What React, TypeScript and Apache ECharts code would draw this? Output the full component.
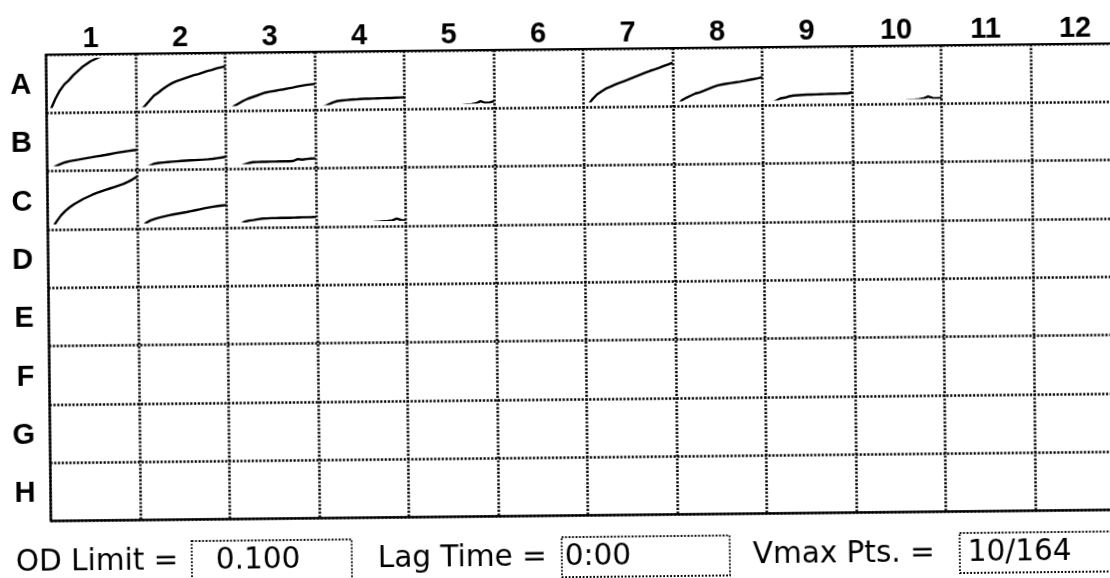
import React, { useEffect, useRef } from "react";
import * as echarts from "echarts";

// ---- plate labels ----
const colLabels = ["1", "2", "3", "4", "5", "6", "7", "8", "9", "10", "11", "12"];
const rowLabels = ["A", "B", "C", "D", "E", "F", "G", "H"];

// ---- kinetic read time points (minutes) ----
const timePoints = ["0", "1", "2", "3", "4", "5", "6", "7", "8", "9", "10", "11", "12", "13", "14", "15", "16", "17", "18", "19", "20"];

// ---- OD readings per well (display window 0.10 .. 0.57 OD) ----
const A1 = [0.02, 0.08, 0.18, 0.26, 0.32, 0.36, 0.41, 0.45, 0.49, 0.52, 0.55, 0.57, 0.59, 0.61, 0.63, 0.65, 0.67, 0.68, 0.7, 0.71, 0.72];
const A2 = [0.0, 0.06, 0.1, 0.15, 0.2, 0.23, 0.265, 0.295, 0.32, 0.34, 0.355, 0.37, 0.385, 0.4, 0.41, 0.425, 0.44, 0.45, 0.465, 0.475, 0.485];
const A3 = [0.02, 0.06, 0.09, 0.115, 0.14, 0.16, 0.175, 0.19, 0.205, 0.22, 0.228, 0.235, 0.243, 0.25, 0.258, 0.266, 0.275, 0.283, 0.29, 0.295, 0.3];
const A4 = [0.02, 0.05, 0.075, 0.095, 0.115, 0.128, 0.133, 0.137, 0.14, 0.142, 0.145, 0.147, 0.148, 0.149, 0.15, 0.151, 0.152, 0.153, 0.155, 0.156, 0.158];
const A5 = [0.012, 0.018, 0.021, 0.027, 0.033, 0.036, 0.041, 0.047, 0.052, 0.055, 0.061, 0.066, 0.069, 0.074, 0.081, 0.084, 0.09, 0.112, 0.095, 0.097, 0.112];
const A7 = [0.0, 0.06, 0.12, 0.165, 0.195, 0.223, 0.24, 0.26, 0.278, 0.294, 0.31, 0.328, 0.345, 0.363, 0.38, 0.396, 0.41, 0.425, 0.442, 0.458, 0.475];
const A8 = [0.0, 0.05, 0.101, 0.125, 0.145, 0.165, 0.177, 0.193, 0.21, 0.228, 0.243, 0.252, 0.26, 0.266, 0.272, 0.278, 0.285, 0.294, 0.302, 0.31, 0.32];
const A9 = [0.0, 0.03, 0.06, 0.085, 0.108, 0.115, 0.128, 0.135, 0.138, 0.14, 0.142, 0.143, 0.144, 0.145, 0.146, 0.147, 0.148, 0.149, 0.15, 0.15, 0.16];
const A10 = [0.01, 0.02, 0.025, 0.03, 0.036, 0.04, 0.047, 0.05, 0.056, 0.06, 0.064, 0.07, 0.073, 0.078, 0.082, 0.087, 0.093, 0.112, 0.096, 0.094, 0.097];
const B1 = [0.01, 0.06, 0.09, 0.11, 0.126, 0.137, 0.145, 0.152, 0.16, 0.167, 0.174, 0.182, 0.188, 0.195, 0.203, 0.211, 0.219, 0.225, 0.232, 0.238, 0.243];
const B2 = [0.0, 0.03, 0.06, 0.085, 0.104, 0.111, 0.115, 0.119, 0.122, 0.125, 0.128, 0.131, 0.133, 0.135, 0.137, 0.139, 0.142, 0.146, 0.152, 0.158, 0.167];
const B3 = [0.0, 0.01, 0.04, 0.065, 0.085, 0.099, 0.108, 0.11, 0.111, 0.111, 0.112, 0.112, 0.113, 0.113, 0.114, 0.116, 0.135, 0.128, 0.135, 0.138, 0.14];
const C1 = [0.0, 0.05, 0.12, 0.18, 0.225, 0.26, 0.29, 0.315, 0.34, 0.36, 0.38, 0.398, 0.413, 0.428, 0.442, 0.455, 0.47, 0.486, 0.505, 0.528, 0.555];
const C2 = [0.0, 0.05, 0.097, 0.12, 0.135, 0.148, 0.158, 0.168, 0.176, 0.184, 0.191, 0.198, 0.207, 0.216, 0.225, 0.234, 0.242, 0.249, 0.255, 0.26, 0.264];
const C3 = [0.0, 0.01, 0.04, 0.07, 0.097, 0.108, 0.113, 0.12, 0.126, 0.128, 0.13, 0.13, 0.131, 0.132, 0.132, 0.133, 0.134, 0.135, 0.135, 0.136, 0.138];
const C4 = [0.0, 0.01, 0.02, 0.028, 0.034, 0.04, 0.045, 0.051, 0.057, 0.06, 0.066, 0.07, 0.074, 0.079, 0.083, 0.087, 0.09, 0.095, 0.112, 0.097, 0.095];

const wellRows = ["A", "A", "A", "A", "A", "A", "A", "A", "A", "B", "B", "B", "C", "C", "C", "C"];
const wellCols = [1, 2, 3, 4, 5, 7, 8, 9, 10, 1, 2, 3, 1, 2, 3, 4];
const wellData = [A1, A2, A3, A4, A5, A7, A8, A9, A10, B1, B2, B3, C1, C2, C3, C4];

const OD_MIN = 0.1;
const OD_MAX = 0.57;

// ---- settings fields under the plate ----
const fieldLabels = ["OD Limit =", "Lag Time =", "Vmax Pts. ="];
const fieldValues = ["0.100", "0:00", "10/164"];

// ---- layout (px) ----
const OFF = 20;
const PLATE_LEFT = 48.5;
const PLATE_TOP = 49;
const COL_W = 89.5;
const ROW_H = 58.3;
const labelX = [13, 375, 750];
const boxX = [189, 559, 957];
const boxW = [160, 168, 175];
const valueX = [213, 562, 965];

const gridDots = { color: "#000", width: 2.5, type: [2.2, 1.6] };

function buildOption() {
  const grids: any[] = [
    {
      left: OFF + PLATE_LEFT,
      top: OFF + PLATE_TOP,
      width: COL_W * 12,
      height: ROW_H * 8,
      show: true,
      borderColor: "#000",
      borderWidth: 2.2,
      backgroundColor: "transparent",
      containLabel: false,
      outerBoundsMode: "none",
    },
  ];
  const xAxes: any[] = [
    {
      type: "category",
      gridIndex: 0,
      data: colLabels,
      position: "top",
      axisLine: { show: false },
      axisTick: { show: false },
      axisLabel: {
        show: true,
        color: "#000",
        fontFamily: '"Liberation Sans", Arial, sans-serif',
        fontWeight: "bold",
        fontSize: 29,
        margin: 17,
        verticalAlign: "middle",
        interval: 0,
      },
      splitLine: { show: true, interval: 0, lineStyle: gridDots },
    },
  ];
  const yAxes: any[] = [
    {
      type: "category",
      gridIndex: 0,
      data: rowLabels,
      inverse: true,
      axisLine: { show: false },
      axisTick: { show: false },
      axisLabel: {
        show: true,
        color: "#000",
        fontFamily: '"Liberation Sans", Arial, sans-serif',
        fontWeight: "bold",
        fontSize: 29,
        margin: 15,
        verticalAlign: "middle",
        interval: 0,
      },
      splitLine: { show: true, interval: 0, lineStyle: gridDots },
    },
  ];
  const series: any[] = [];

  wellData.forEach((vals, i) => {
    const r = rowLabels.indexOf(wellRows[i]);
    const c = wellCols[i] - 1;
    const gi = i + 1;
    grids.push({
      left: OFF + PLATE_LEFT + c * COL_W,
      top: OFF + PLATE_TOP + r * ROW_H + 5,
      width: COL_W,
      height: ROW_H - 11,
      show: false,
      containLabel: false,
      outerBoundsMode: "none",
    });
    xAxes.push({
      type: "category",
      gridIndex: gi,
      data: timePoints,
      boundaryGap: false,
      show: false,
    });
    yAxes.push({
      type: "value",
      gridIndex: gi,
      min: OD_MIN,
      max: OD_MAX,
      show: false,
    });
    series.push({
      type: "line",
      name: wellRows[i] + wellCols[i],
      xAxisIndex: gi,
      yAxisIndex: gi,
      data: vals,
      symbol: "none",
      clip: true,
      lineStyle: { color: "#000", width: 2.4 },
      z: 5,
    });
  });

  const graphic: any[] = [];
  fieldLabels.forEach((t, i) => {
    graphic.push({
      type: "text",
      x: OFF + labelX[i],
      y: OFF + 555,
      style: {
        text: t,
        fill: "#000",
        font: '29.5px "DejaVu Sans", sans-serif',
        lineHeight: 24,
        align: "left",
        verticalAlign: "middle",
      },
    });
    graphic.push({
      type: "rect",
      shape: { x: OFF + boxX[i], y: OFF + 537, width: boxW[i], height: 40 },
      style: { fill: "none", stroke: "#000", lineWidth: 1.8, lineDash: [1.8, 1.7] },
    });
    graphic.push({
      type: "text",
      x: OFF + valueX[i],
      y: OFF + 555,
      style: {
        text: fieldValues[i],
        fill: "#000",
        font: '29.5px "DejaVu Sans", sans-serif',
        lineHeight: 24,
        align: "left",
        verticalAlign: "middle",
      },
    });
  });

  return {
    animation: false,
    backgroundColor: "#fff",
    grid: grids,
    xAxis: xAxes,
    yAxis: yAxes,
    series,
    graphic,
  };
}

export default function App() {
  const ref = useRef<HTMLDivElement>(null);
  useEffect(() => {
    if (!ref.current) return;
    const chart = echarts.init(ref.current, null, { renderer: "svg" });
    chart.setOption(buildOption() as any);
    return () => chart.dispose();
  }, []);
  return (
    <div
      ref={ref}
      style={{
        position: "fixed",
        left: -OFF,
        top: -OFF,
        width: 1110 + 2 * OFF,
        height: 578 + 2 * OFF,
        background: "#fff",
        transform: "rotate(-0.6deg)",
        transformOrigin: `${580 + OFF}px ${290 + OFF}px`,
      }}
    />
  );
}
